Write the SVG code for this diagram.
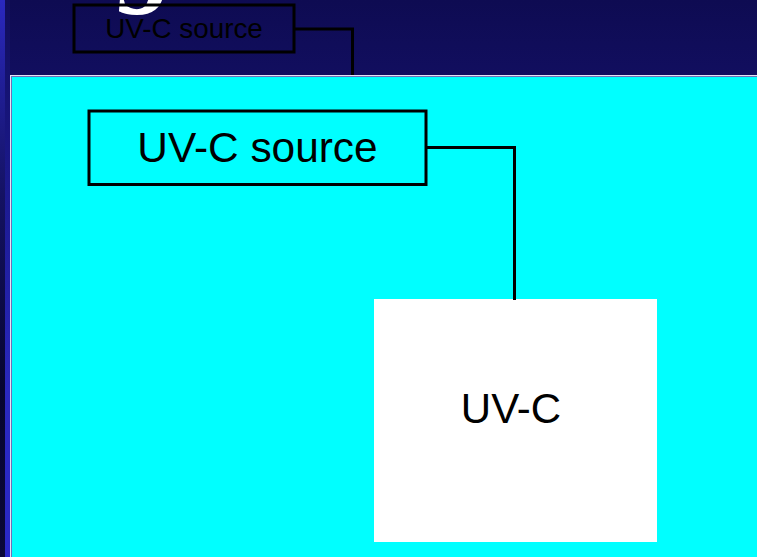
<svg xmlns="http://www.w3.org/2000/svg" width="757" height="557" viewBox="0 0 757 557">
<defs>
<linearGradient id="bg" x1="0" y1="0" x2="0" y2="1">
<stop offset="0" stop-color="#0e0b52"/>
<stop offset="0.2" stop-color="#131065"/>
<stop offset="1" stop-color="#15126e"/>
</linearGradient>
<linearGradient id="stripA" x1="0" y1="0" x2="0" y2="1">
<stop offset="0" stop-color="#2a28bf"/>
<stop offset="0.35" stop-color="#141262"/>
<stop offset="0.7" stop-color="#060530"/>
<stop offset="1" stop-color="#0a0838"/>
</linearGradient>
<linearGradient id="stripB" x1="0" y1="0" x2="0" y2="1">
<stop offset="0" stop-color="#100d5a"/>
<stop offset="0.35" stop-color="#1c1a90"/>
<stop offset="0.7" stop-color="#2a28c0"/>
<stop offset="1" stop-color="#2a28c8"/>
</linearGradient>
</defs>
<style>
.box{fill:none;stroke:#000;stroke-width:3}
.lbl{font-family:"Liberation Sans",Arial,sans-serif;fill:#000;text-anchor:middle}
.conn{fill:none;stroke:#000;stroke-width:3}
</style>
<rect x="0" y="0" width="757" height="557" fill="url(#bg)"/>
<rect x="0" y="0" width="5" height="557" fill="url(#stripA)"/>
<rect x="5" y="0" width="5" height="557" fill="url(#stripB)"/>
<text x="121" y="-8" font-family="'Liberation Serif',serif" font-style="italic" font-weight="bold" font-size="110" fill="#fff">g</text>
<g id="src-small">
<rect class="box" x="74" y="5" width="220" height="47"/>
<text class="lbl" x="184" y="38" font-size="27.8">UV-C source</text>
</g>
<g id="panel">
<rect x="10" y="75" width="747" height="482" fill="#e4e4f4"/>
<rect x="11" y="76" width="746" height="481" fill="#7070b8"/>
<rect x="12" y="77" width="745" height="480" fill="#00ffff"/>
</g>
<g id="src-big">
<rect class="box" x="89" y="111" width="337" height="73.5"/>
<text class="lbl" x="257.5" y="161.7" font-size="42.4">UV-C source</text>
</g>
<g id="uvc">
<rect x="374" y="299" width="283" height="243" fill="#fff"/>
<text class="lbl" x="511" y="423.3" font-size="42">UV-C</text>
</g>
<g id="connectors">
<polyline class="conn" points="295,29 352.5,29 352.5,75"/>
<polyline class="conn" points="427,147.5 514.5,147.5 514.5,300"/>
</g>
</svg>
